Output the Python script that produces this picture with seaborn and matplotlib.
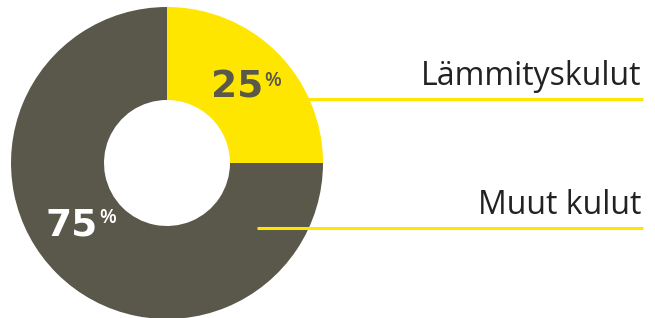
import matplotlib
matplotlib.use("Agg")
import matplotlib.pyplot as plt
import seaborn as sns

# share of costs
categories = ["Lämmityskulut", "Muut kulut"]
shares = [25, 75]
pct_labels = ["25", "75"]
colors = ["#FFE600", "#5A584B"]

sns.set_style("white")
plt.rcParams['font.family'] = ['Open Sans', 'DejaVu Sans']

W, H = 655, 318
fig = plt.figure(figsize=(W / 100, H / 100), dpi=100)
ax = fig.add_axes([0, 0, 1, 1])

cx, cy = 167, H - 163
r_out, r_in = 156, 63
ax.pie(shares, colors=colors, startangle=90, counterclock=False,
       center=(cx, cy), radius=r_out, frame=True,
       wedgeprops=dict(width=r_out - r_in, linewidth=0))
ax.set_xlim(0, W)
ax.set_ylim(0, H)
ax.set_aspect('equal')
ax.axis('off')

# percentage labels
num_style = [dict(x=263, y=H - 98, color="#5A584B"),
             dict(x=98, y=H - 235, color="white")]
for lab, st in zip(pct_labels, num_style):
    ax.text(st['x'], st['y'], lab, ha='right', va='baseline', fontsize=27,
            fontweight='bold', color=st['color'], family='DejaVu Sans')
    ax.text(st['x'] + 1, st['y'] + 12, "%", ha='left', va='baseline', fontsize=14,
            fontweight='semibold', color=st['color'])

# leader lines and category names
line_y = [H - 99, H - 228]
line_x0 = [300, 257]
for name, ly, lx in zip(categories, line_y, line_x0):
    ax.plot([lx, 643], [ly, ly], color="#FFE600", lw=2.2, solid_capstyle='butt')
    ax.text(641, ly + 14, name, ha='right', va='baseline', fontsize=23,
            color="#222222")

fig.savefig("out.png", dpi=100)
